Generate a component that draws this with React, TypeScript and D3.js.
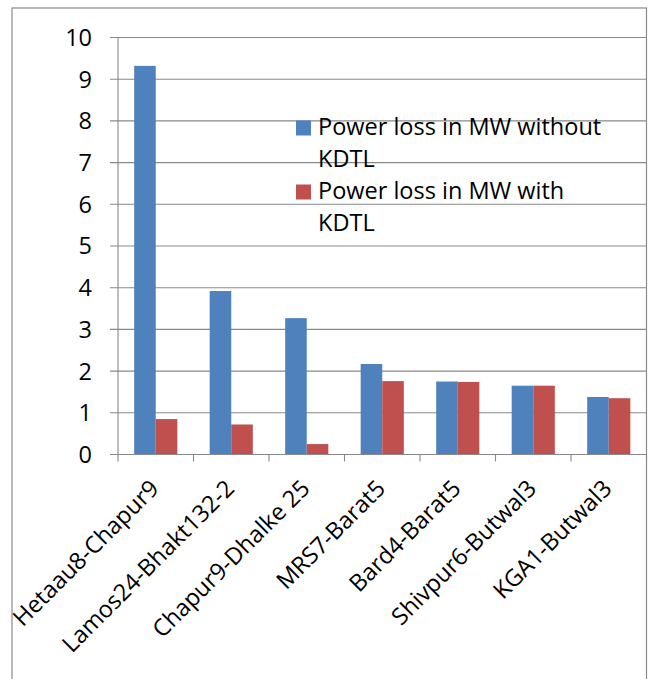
import React from "react";
import * as d3 from "d3";

const categories = [
  "Hetaau8-Chapur9",
  "Lamos24-Bhakt132-2",
  "Chapur9-Dhalke 25",
  "MRS7-Barat5",
  "Bard4-Barat5",
  "Shivpur6-Butwal3",
  "KGA1-Butwal3",
];
const lossWithout = [9.32, 3.92, 3.27, 2.17, 1.75, 1.65, 1.38];
const lossWith = [0.85, 0.72, 0.25, 1.76, 1.74, 1.65, 1.35];
const seriesNames = ["Power loss in MW without KDTL", "Power loss in MW with KDTL"];
const legendLines = [
  ["Power loss in MW without", "KDTL"],
  ["Power loss in MW with", "KDTL"],
];
const yTicks = [0, 1, 2, 3, 4, 5, 6, 7, 8, 9, 10];

const W = 649;
const H = 679;
const left = 118;
const right = 646.5;
const top = 37.5;
const bottom = 454.5;
const colors = ["#4F81BD", "#C0504D"];
const gridColor = "#898989";
const font = "'Open Sans', sans-serif";
const fs = 23.5;

export default function App() {
  const x = d3.scaleBand<string>().domain(categories).range([left, right]).paddingInner(0).paddingOuter(0);
  const xs = d3
    .scaleBand<string>()
    .domain(seriesNames)
    .range([0, x.bandwidth()])
    .paddingInner(0)
    .paddingOuter(0.75);
  const y = d3.scaleLinear().domain([0, 10]).range([bottom, top]);
  const series = [lossWithout, lossWith];

  const catEdges = categories.map((c) => x(c) as number).concat([right]);

  return (
    <svg
      width={W}
      height={H}
      style={{ position: "absolute", left: 0, top: 0, background: "#fff" }}
      fontFamily={font}
    >
      {/* chart frame */}
      <rect x={12} y={8} width={634.5} height={690} fill="#fff" stroke="#8a8a8a" strokeWidth={1.2} />

      {/* horizontal gridlines with left ticks */}
      {yTicks.map((t) => (
        <line key={"g" + t} x1={110} x2={right} y1={y(t)} y2={y(t)} stroke={gridColor} strokeWidth={1.1} />
      ))}

      {/* y axis line */}
      <line x1={left} x2={left} y1={top} y2={bottom} stroke={gridColor} strokeWidth={1.1} />

      {/* y tick labels */}
      {yTicks.map((t) => (
        <text key={"yl" + t} x={92} y={y(t)} dy="0.36em" textAnchor="end" fontSize={fs} fill="#000">
          {t}
        </text>
      ))}

      {/* bars */}
      {series.map((vals, si) =>
        categories.map((c, ci) => (
          <rect
            key={`b${si}-${ci}`}
            x={(x(c) as number) + (xs(seriesNames[si]) as number)}
            y={y(vals[ci])}
            width={xs.bandwidth()}
            height={y(0) - y(vals[ci])}
            fill={colors[si]}
          />
        ))
      )}

      {/* x axis line and category ticks */}
      <line x1={left} x2={right} y1={bottom} y2={bottom} stroke={gridColor} strokeWidth={1.1} />
      {catEdges.map((ex, i) => (
        <line key={"xt" + i} x1={ex} x2={ex} y1={bottom} y2={bottom + 7} stroke={gridColor} strokeWidth={1.1} />
      ))}

      {/* rotated category labels */}
      {categories.map((c) => {
        const cx = (x(c) as number) + x.bandwidth() / 2 + 4.5;
        const cy = bottom + 35.5;
        return (
          <text
            key={"xl" + c}
            transform={`translate(${cx},${cy}) rotate(-45)`}
            textAnchor="end"
            fontSize={fs}
            fill="#000"
          >
            {c}
          </text>
        );
      })}

      {/* legend */}
      {legendLines.map((lines, i) => {
        const baseY = 135 + i * 64;
        return (
          <g key={"lg" + i}>
            <rect x={296} y={baseY - 14.5} width={15} height={15} fill={colors[i]} />
            {lines.map((ln, j) => (
              <text key={j} x={318} y={baseY + j * 31.5} fontSize={fs} fill="#000">
                {ln}
              </text>
            ))}
          </g>
        );
      })}
    </svg>
  );
}
